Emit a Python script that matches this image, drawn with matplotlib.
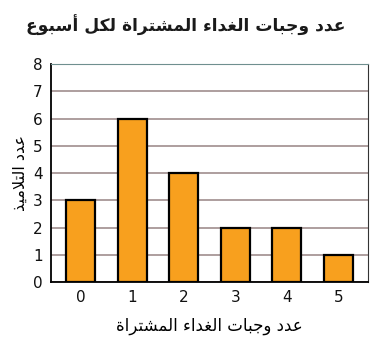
import matplotlib
matplotlib.use('Agg')
import matplotlib.pyplot as plt

# data
meals = [0, 1, 2, 3, 4, 5]
students = [3, 6, 4, 2, 2, 1]
yticks = [0, 1, 2, 3, 4, 5, 6, 7, 8]

title = 'عدد وجبات الغداء المشتراة لكل أسبوع'
xlabel = 'عدد وجبات الغداء المشتراة'
ylabel = 'عدد التلاميذ'

# matplotlib has no Arabic shaping, so pick the presentation forms by hand
# (isolated, final, initial, medial)
FORMS = {
    'ء': ('\ufe80',), 'أ': ('\ufe83', '\ufe84'), 'ا': ('\ufe8d', '\ufe8e'),
    'ب': ('\ufe8f', '\ufe90', '\ufe91', '\ufe92'), 'ة': ('\ufe93', '\ufe94'),
    'ت': ('\ufe95', '\ufe96', '\ufe97', '\ufe98'),
    'ج': ('\ufe9d', '\ufe9e', '\ufe9f', '\ufea0'),
    'د': ('\ufea9', '\ufeaa'), 'ذ': ('\ufeab', '\ufeac'), 'ر': ('\ufead', '\ufeae'),
    'س': ('\ufeb1', '\ufeb2', '\ufeb3', '\ufeb4'),
    'ش': ('\ufeb5', '\ufeb6', '\ufeb7', '\ufeb8'),
    'ع': ('\ufec9', '\ufeca', '\ufecb', '\ufecc'),
    'غ': ('\ufecd', '\ufece', '\ufecf', '\ufed0'),
    'ك': ('\ufed9', '\ufeda', '\ufedb', '\ufedc'),
    'ل': ('\ufedd', '\ufede', '\ufedf', '\ufee0'),
    'م': ('\ufee1', '\ufee2', '\ufee3', '\ufee4'),
    'و': ('\ufeed', '\ufeee'),
    'ي': ('\ufef1', '\ufef2', '\ufef3', '\ufef4'),
    'لا': ('\ufefb', '\ufefc'), 'لأ': ('\ufef7', '\ufef8'),
}


def shape(s):
    units = []
    i = 0
    while i < len(s):
        if s[i] == 'ل' and i + 1 < len(s) and s[i + 1] in 'اأ':
            units.append(s[i:i + 2])
            i += 2
        else:
            units.append(s[i])
            i += 1
    out = []
    for k, u in enumerate(units):
        f = FORMS.get(u)
        if f is None:
            out.append(u)
            continue
        prev = units[k - 1] if k > 0 else None
        nxt = units[k + 1] if k + 1 < len(units) else None
        join_prev = prev in FORMS and len(FORMS[prev]) == 4
        join_next = len(f) == 4 and nxt in FORMS and len(FORMS[nxt]) > 1
        if join_prev and join_next:
            out.append(f[3])
        elif join_prev and len(f) > 1:
            out.append(f[1])
        elif join_next:
            out.append(f[2])
        else:
            out.append(f[0])
    return ''.join(out)[::-1]


fig = plt.figure(figsize=(3.85, 3.44), dpi=100)
ax = fig.add_axes([0.1325, 0.180, 0.823, 0.634])

ax.bar(meals, students, width=0.56, color='#f8a01e', edgecolor='black',
       linewidth=1.6, zorder=3)

ax.set_xlim(-0.575, 5.575)
ax.set_ylim(0, 8)
ax.set_yticks(yticks)
ax.set_xticks(meals)
ax.yaxis.grid(True, color='#a08e8e', linewidth=1.2, zorder=0)
ax.tick_params(length=0, labelsize=11, pad=6, colors='#111111')

for side in ['left', 'bottom']:
    ax.spines[side].set_linewidth(1.3)
ax.spines['right'].set_color('#333333')
ax.spines['top'].set_color('#6f8f8f')

fig.text(0.483, 0.927, shape(title), ha='center', va='center',
         fontsize=12.3, fontweight='bold', color='#1a1a1a')
ax.set_xlabel(shape(xlabel), fontsize=12, labelpad=8)
ax.set_ylabel(shape(ylabel), fontsize=11.5, labelpad=4)

fig.savefig('out.png', dpi=100)
